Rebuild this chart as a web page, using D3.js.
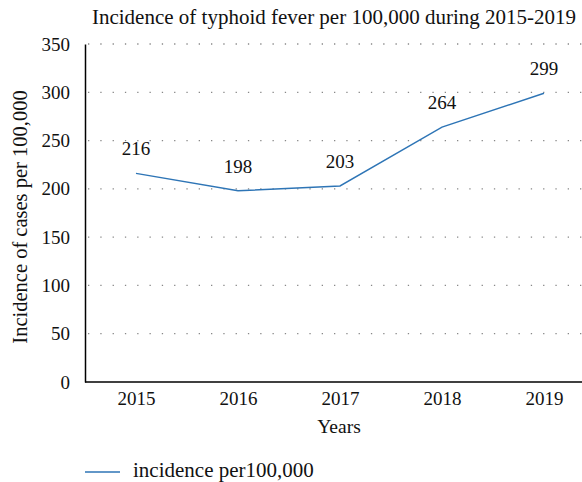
<!DOCTYPE html>
<html><head><meta charset="utf-8">
<script src="https://cdn.jsdelivr.net/npm/d3@7"></script>
<style>body{margin:0;background:#fff}svg{display:block}</style>
</head><body><svg id="c" width="582" height="482"></svg>
<script>
const years = ["2015","2016","2017","2018","2019"];
const incidence = [216,198,203,264,299];
const yTicks = [0,50,100,150,200,250,300,350];
const titleText = "Incidence of typhoid fever per 100,000 during 2015-2019";
const xTitle = "Years";
const yTitle = "Incidence of cases per 100,000";
const seriesName = "incidence per100,000";

(function(){
const FONT = "Liberation Serif, DejaVu Serif, serif";
const svg = d3.select("#c").attr("font-family",FONT);
const mLeft=85, mRight=595, mTop=44, mBottom=382;
const x = d3.scalePoint().domain(years).range([mLeft,mRight]).padding(0.5);
const y = d3.scaleLinear().domain([0,350]).range([mBottom,mTop]);
const color = "#2e75b6";

svg.append("g").selectAll("line").data(yTicks.filter(d=>d>0)).join("line")
  .attr("x1",mLeft+3).attr("x2",582).attr("y1",d=>y(d)).attr("y2",d=>y(d))
  .attr("stroke","#888").attr("stroke-width",1.3).attr("stroke-dasharray","1.3,11");

const ya = svg.append("g").attr("transform",`translate(${mLeft},0)`)
  .call(d3.axisLeft(y).tickValues(yTicks).tickSize(0).tickPadding(15));
ya.attr("font-family",FONT).attr("font-size",19);
ya.select(".domain").attr("stroke","#000").attr("stroke-width",1.5);
ya.selectAll("text").attr("fill","#111");

const xa = svg.append("g").attr("transform",`translate(0,${mBottom})`)
  .call(d3.axisBottom(x).tickSize(0).tickPadding(10));
xa.attr("font-family",FONT).attr("font-size",19);
xa.select(".domain").attr("stroke","#000").attr("stroke-width",1.5).attr("d",`M${mLeft},0H600`);
xa.selectAll("text").attr("fill","#111");

const pts = years.map((yr,i)=>({yr,v:incidence[i]}));
svg.append("path").datum(pts)
  .attr("d",d3.line().x(d=>x(d.yr)).y(d=>y(d.v)))
  .attr("fill","none").attr("stroke",color).attr("stroke-width",1.4);

svg.append("g").selectAll("text").data(pts).join("text")
  .attr("x",d=>x(d.yr)).attr("y",d=>y(d.v)-18).attr("text-anchor","middle")
  .attr("font-size",19).attr("fill","#111").text(d=>d.v);

svg.append("text").attr("x",334).attr("y",24).attr("text-anchor","middle").attr("font-size",21).attr("fill","#111").text(titleText);
svg.append("text").attr("x",339).attr("y",433).attr("text-anchor","middle").attr("font-size",19.5).attr("fill","#111").text(xTitle);
svg.append("text").attr("transform","translate(27,217) rotate(-90)").attr("text-anchor","middle").attr("font-size",20.5).attr("fill","#111").text(yTitle);

svg.append("line").attr("x1",85).attr("x2",120).attr("y1",472).attr("y2",472).attr("stroke",color).attr("stroke-width",1.4);
svg.append("text").attr("x",133).attr("y",477).attr("font-size",21).attr("fill","#111").text(seriesName);
})();
</script></body></html>
